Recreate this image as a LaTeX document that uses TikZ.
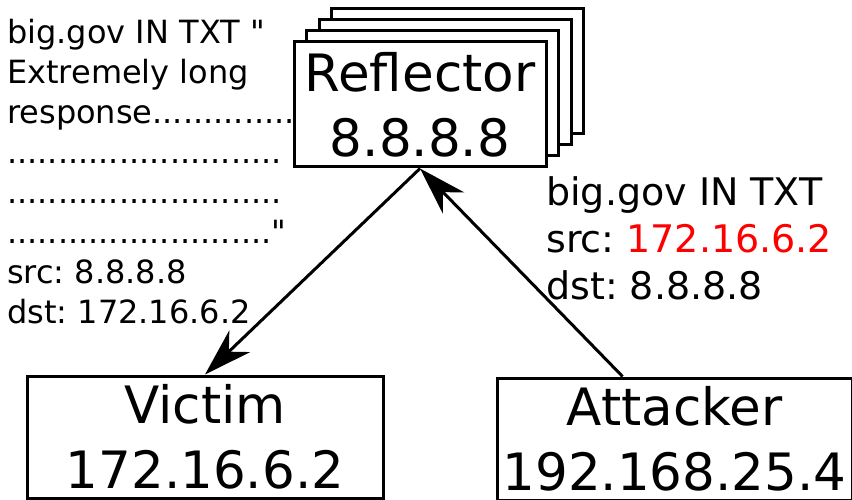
\documentclass[tikz,border=0pt]{standalone}
\usepackage{xcolor}
\usepackage{fontspec}
\setmainfont{DejaVu Sans}[Ligatures=TeXOff]
\usetikzlibrary{
  positioning,
  arrows.meta,
  calc
}

\begin{document}
\frenchspacing
\begin{tikzpicture}[x=1pt,y=-1pt,
  hostbox/.style={draw,line width=3pt,fill=white,
    minimum width=252pt,minimum height=125pt,inner sep=0pt,
    align=center,font=\fontsize{51.5}{65}\selectfont},
  packet/.style={anchor=north west,inner sep=0pt,align=left},
  flow/.style={-{Stealth[length=48pt,width=30pt,inset=15pt]},line width=3pt}]
  \useasboundingbox (0,0) rectangle (852,500);

  % ---------- reply (drawn first, the box hides its tail) ----------
  \node[packet,font=\fontsize{32}{40}\selectfont] (reply) at (7,19)
    {big.gov IN TXT "\\
     Extremely long\\
     response...............\\
     ...........................\\
     ...........................\\
     .........................."\\
     src: 8.8.8.8\\
     dst: 172.16.6.2};

  % ---------- reflector stack ----------
  \foreach \i in {3,2,1}
    \node[hostbox] (refl\i) at ({420+12.5*\i},{104.5-11.3*\i}) {};
  \node[hostbox] (refl) at (420,104.5) {Reflector\\8.8.8.8};

  % ---------- hosts ----------
  \node[hostbox,minimum width=356pt,minimum height=122pt] (victim) at (205,437) {Victim\\172.16.6.2};
  \node[hostbox,minimum width=355pt,minimum height=122pt] (attacker) at (674.5,439) {Attacker\\192.168.25.4};

  % query
  \node[packet,font=\fontsize{38}{47}\selectfont] (query) at (546,176)
    {big.gov IN TXT\\
     src: \textcolor{red}{172.16.6.2}\\
     dst: 8.8.8.8};

  % 流向
  \draw[flow] (refl.south) -- (victim.north);
  \draw[flow] ($(attacker.north west)!0.355!(attacker.north east)$) -- (refl.south);
\end{tikzpicture}
\end{document}
